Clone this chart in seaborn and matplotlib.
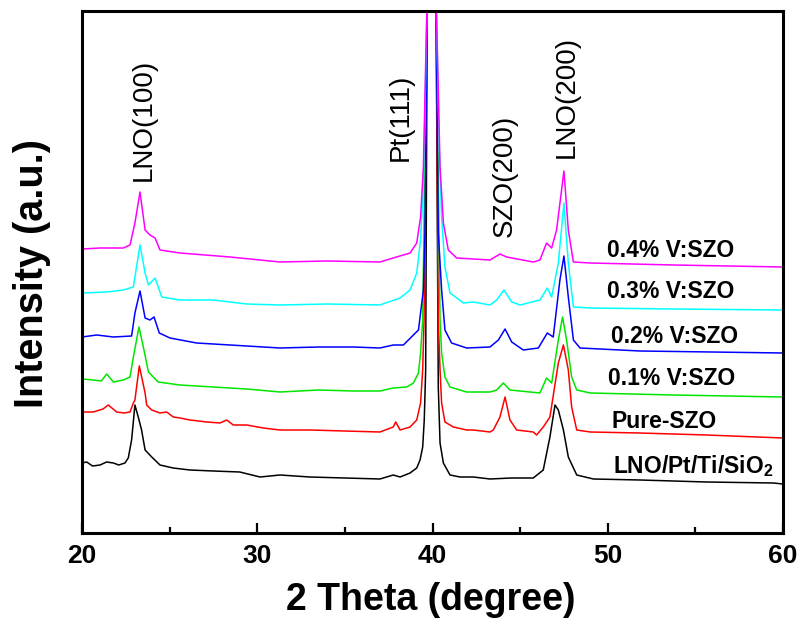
import numpy as np
import pandas as pd
import matplotlib
matplotlib.use("Agg")
import matplotlib.pyplot as plt
import seaborn as sns
from matplotlib.ticker import MultipleLocator

# ---------------- data ----------------
samples = ["LNO/Pt/Ti/SiO2", "Pure-SZO", "0.1% V:SZO", "0.2% V:SZO", "0.3% V:SZO", "0.4% V:SZO"]
colors = ["#000000", "#ff0000", "#00e600", "#0000ff", "#00ffff", "#ff00ff"]

theta_lno = [20.0, 20.27, 20.6, 21.03, 21.4, 21.79, 22.1, 22.45, 22.64, 22.83, 23.02, 23.21, 23.4, 23.6,
             23.98, 24.45, 25.2, 26.16, 27.49, 29.0, 30.16, 31.3, 33.0, 35.0, 37.0, 37.76, 38.15, 38.72,
             39.1, 39.29, 39.44, 39.53, 39.61, 39.70, 39.95, 40.20, 40.33, 40.43, 40.62, 41.0, 41.57,
             42.33, 43.28, 44.5, 45.75, 46.32, 46.7, 46.99, 47.18, 47.47, 47.75, 48.23, 49.18, 51.84,
             55.64, 59.45, 60.0]
int_lno = [70, 71, 67, 68, 71, 70, 68, 70, 75, 93, 128, 116, 103, 83,
           76, 68, 65, 63, 62, 61, 56, 58, 56, 55, 54, 58, 56, 60,
           65, 73, 86, 113, 163, 540, 3000, 540, 146, 90, 70, 58, 56,
           56, 54, 55, 55, 63, 96, 128, 123, 103, 76, 58, 54, 53,
           51, 50, 49]

theta_pure = [20.0, 20.64, 21.2, 21.5, 21.98, 22.4, 22.74, 22.93, 23.02, 23.27, 23.6, 23.69, 23.98, 24.45,
              24.83, 25.21, 25.59, 26.16, 27.12, 27.87, 28.26, 28.63, 29.4, 30.35, 31.3, 33.0, 35.0,
              37.0, 37.76, 37.9, 38.15, 38.72, 39.1, 39.32, 39.44, 39.52, 39.70, 39.95, 40.20, 40.33,
              40.43, 40.52, 40.71, 41.19, 41.95, 42.33, 43.28, 43.47, 43.85, 44.14, 44.42, 44.8, 45.75,
              45.94, 46.32, 46.7, 47.18, 47.47, 47.75, 47.94, 48.23, 49.0, 51.84, 55.64, 60.0]
int_pure = [121, 121, 124, 128, 121, 120, 121, 130, 133, 167, 140, 128, 123, 120,
            121, 116, 115, 113, 111, 110, 113, 108, 108, 105, 103, 103, 102,
            101, 106, 111, 103, 106, 113, 130, 163, 213, 540, 3000, 540, 213,
            163, 130, 111, 106, 103, 103, 101, 103, 116, 136, 113, 103, 101,
            98, 106, 116, 170, 188, 163, 126, 103, 101, 100, 98, 95]

theta_v01 = [20.0, 20.64, 21.1, 21.41, 21.79, 22.36, 22.74, 22.93, 23.25, 23.5, 23.79, 24.35, 25.59, 27.49,
             29.4, 31.3, 33.5, 35.5, 37.0, 37.76, 38.53, 38.91, 39.2, 39.32, 39.44, 39.70, 39.95, 40.20,
             40.43, 40.52, 40.71, 41.0, 41.95, 42.33, 43.28, 43.66, 44.04, 44.42, 46.13, 46.51, 46.8,
             47.18, 47.42, 47.65, 47.94, 48.23, 49.0, 53.74, 60.0]
int_v01 = [154, 153, 152, 159, 151, 153, 156, 176, 206, 186, 161, 151, 148, 146,
           144, 141, 143, 142, 142, 145, 146, 150, 160, 180, 213, 540, 3000, 540,
           213, 180, 156, 146, 141, 141, 141, 143, 150, 143, 140, 155, 150,
           193, 216, 193, 156, 143, 140, 138, 136]

theta_v02 = [20.0, 20.84, 21.79, 22.83, 23.02, 23.31, 23.6, 23.88, 24.11, 24.41, 25.02, 26.54, 28.45, 31.3,
             33.5, 35.5, 37.0, 37.76, 38.34, 38.91, 39.2, 39.48, 39.57, 39.70, 39.95, 40.20, 40.33,
             40.52, 40.71, 41.09, 41.95, 43.28, 43.76, 44.14, 44.52, 45.18, 46.04, 46.55, 46.89, 47.27,
             47.5, 47.75, 48.04, 48.42, 51.84, 60.0]
int_v02 = [196, 198, 196, 197, 220, 242, 215, 213, 216, 200, 195, 190, 188, 185,
           186, 186, 185, 188, 188, 198, 203, 243, 300, 540, 3000, 540, 300,
           243, 203, 190, 185, 186, 193, 204, 191, 183, 185, 200, 196, 253,
           277, 236, 193, 185, 182, 180]

theta_v03 = [20.0, 21.41, 22.36, 22.93, 23.31, 23.6, 23.79, 24.17, 24.55, 25.59, 27.49, 29.4, 31.3, 34.0,
             37.0, 38.15, 38.72, 39.1, 39.32, 39.48, 39.53, 39.70, 39.95, 40.20, 40.39, 40.52, 40.71,
             41.0, 41.76, 42.33, 43.28, 43.66, 44.08, 44.52, 44.99, 46.13, 46.55, 46.8, 47.18, 47.5,
             47.75, 48.04, 49.0, 53.74, 60.0]
int_v03 = [240, 241, 243, 246, 288, 260, 248, 255, 236, 233, 233, 229, 228, 229,
           228, 235, 243, 260, 293, 350, 383, 540, 3000, 540, 383, 316, 266,
           240, 230, 231, 228, 233, 243, 231, 228, 233, 245, 236, 270, 330,
           270, 226, 225, 224, 223]

theta_v04 = [20.0, 21.03, 22.36, 22.74, 23.02, 23.31, 23.6, 23.88, 24.17, 24.45, 25.59, 28.45, 31.3, 34.0,
             37.0, 37.95, 38.72, 39.1, 39.32, 39.48, 39.70, 39.95, 40.20, 40.43, 40.62, 40.9, 41.38,
             43.28, 43.85, 44.23, 45.75, 46.13, 46.51, 46.8, 47.08, 47.5, 47.75, 48.04, 49.0, 53.74, 60.0]
int_v04 = [284, 285, 285, 288, 310, 341, 303, 298, 295, 283, 280, 276, 271, 272,
           271, 276, 280, 290, 316, 366, 540, 3000, 540, 366, 310, 283, 275,
           273, 279, 276, 271, 273, 290, 285, 303, 362, 303, 271, 270, 268, 266]

peak_labels = ["LNO(100)", "Pt(111)", "SZO(200)", "LNO(200)"]
peak_label_x = [23.54, 38.17, 44.14, 47.67]
peak_label_y = [413, 416, 357, 436]

curve_labels = ["LNO/Pt/Ti/SiO$_\\mathbf{2}$", "Pure-SZO", "0.1% V:SZO", "0.2% V:SZO", "0.3% V:SZO", "0.4% V:SZO"]
curve_label_x = [50.30, 50.24, 50.01, 50.19, 49.96, 49.96]
curve_label_y = [60, 105, 148, 190, 235, 276]

x_ticks = [20, 30, 40, 50, 60]

# ---------------- build table ----------------
thetas = [theta_lno, theta_pure, theta_v01, theta_v02, theta_v03, theta_v04]
ints = [int_lno, int_pure, int_v01, int_v02, int_v03, int_v04]
frames = []
for s, t, i in zip(samples, thetas, ints):
    frames.append(pd.DataFrame({"theta": t, "intensity": i, "sample": s}))
df = pd.concat(frames, ignore_index=True)

# ---------------- style ----------------
sns.set_theme(style="white")
plt.rcParams["font.family"] = ["Liberation Sans", "DejaVu Sans"]
plt.rcParams["mathtext.fontset"] = "custom"
plt.rcParams["mathtext.rm"] = "Liberation Sans"
plt.rcParams["mathtext.bf"] = "Liberation Sans:bold"
plt.rcParams["text.color"] = "black"
plt.rcParams["axes.labelcolor"] = "black"
plt.rcParams["xtick.color"] = "black"
plt.rcParams["ytick.color"] = "black"

fig = plt.figure(figsize=(8.04, 6.28), dpi=100)
ax = fig.add_axes([82 / 804, 1 - 533 / 628, 701 / 804, 522 / 628])

sns.lineplot(data=df, x="theta", y="intensity", hue="sample", hue_order=samples,
             palette=dict(zip(samples, colors)), estimator=None, sort=False,
             linewidth=1.1, legend=False, ax=ax)

ax.set_xlim(20, 60)
ax.set_ylim(0, 522)
ax.set_xlabel("")
ax.set_ylabel("")
ax.set_yticks([])
ax.set_xticks(x_ticks)
ax.set_xticklabels([str(v) for v in x_ticks], fontsize=19, fontweight="bold", color="black")
ax.xaxis.set_minor_locator(MultipleLocator(5))
ax.tick_params(axis="x", which="major", direction="in", length=7.5, width=1.6, pad=8,
               bottom=True, top=False, colors="black")
ax.tick_params(axis="x", which="minor", direction="in", length=4.5, width=1.6,
               bottom=True, top=False, colors="black")
for sp in ax.spines.values():
    sp.set_linewidth(2.2)
    sp.set_color("black")

for lab, x, y in zip(peak_labels, peak_label_x, peak_label_y):
    ax.text(x, y, lab, rotation=90, ha="center", va="center", fontsize=20, color="black")

for lab, x, y in zip(curve_labels, curve_label_x, curve_label_y):
    ax.text(x, y, lab, ha="left", va="baseline", fontsize=16.5, fontweight="bold", color="black")

fig.text(32 / 804, 1 - 274 / 628, "Intensity (a.u.)", rotation=90, ha="center", va="center",
         fontsize=28.5, fontweight="bold", color="black")
fig.text(431 / 804, 1 - 600 / 628, "2 Theta (degree)", ha="center", va="center",
         fontsize=27, fontweight="bold", color="black")

fig.savefig("out.png", dpi=100, facecolor="white")
